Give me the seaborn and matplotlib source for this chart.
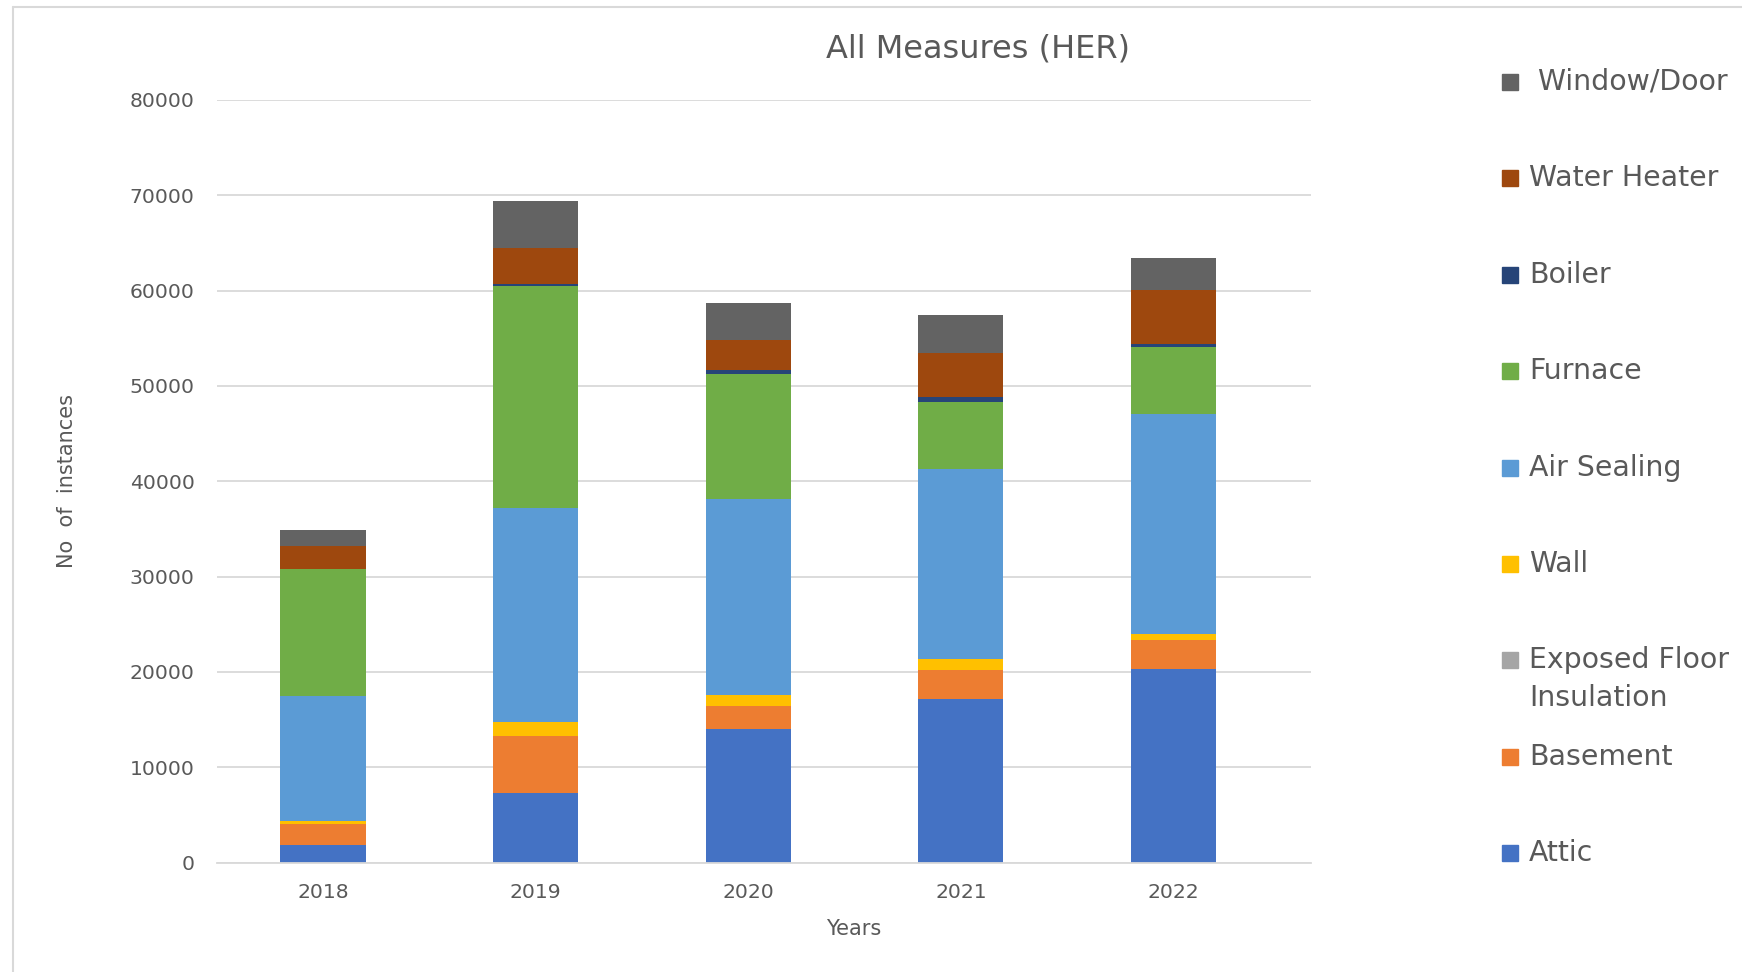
import pandas as pd
import matplotlib
matplotlib.use('Agg')
import matplotlib.pyplot as plt
from matplotlib.lines import Line2D
from matplotlib.patches import Rectangle
import seaborn as sns

# values (instances per year)
years = ['2018', '2019', '2020', '2021', '2022']
attic = [1900, 7300, 14070, 17160, 20300]
basement = [2200, 6000, 2320, 3050, 3070]
exposed_floor = [0, 0, 0, 0, 0]
wall = [250, 1400, 1150, 1160, 660]
air_sealing = [13100, 22500, 20560, 19910, 23020]
furnace = [13330, 23250, 13140, 7040, 7030]
boiler = [0, 200, 380, 520, 360]
water_heater = [2460, 3800, 3240, 4610, 5640]
window_door = [1640, 5000, 3850, 4000, 3330]

measures = ['Attic', 'Basement', 'Exposed Floor\nInsulation', 'Wall', 'Air Sealing',
            'Furnace', 'Boiler', 'Water Heater', ' Window/Door']
colors = ['#4472C4', '#ED7D31', '#A5A5A5', '#FFC000', '#5B9BD5',
          '#70AD47', '#264478', '#9E480E', '#636363']

df = pd.DataFrame(
    [attic, basement, exposed_floor, wall, air_sealing, furnace, boiler, water_heater, window_door],
    index=measures, columns=years).T
cum = df.cumsum(axis=1)

sns.set_style('white')
plt.rcParams['font.family'] = ['DejaVu Sans']
txt = '#595959'

fig = plt.figure(figsize=(17.42, 9.72), dpi=100)
ax = fig.add_axes([0.1244, 0.1125, 0.628, 0.7847])

# stacked bars: draw cumulative totals from the top layer down
for m, c in reversed(list(zip(measures, colors))):
    sns.barplot(x=years, y=cum[m].values, order=years, color=c, width=0.4,
                saturation=1, linewidth=0, ax=ax)

ax.set_ylim(0, 80000)
ax.set_xlim(-0.5, 4.645)
ax.set_yticks(range(0, 80001, 10000))
ax.yaxis.grid(True, color='#d9d9d9', linewidth=1.3)
ax.set_axisbelow(True)
for s in ['top', 'right', 'left']:
    ax.spines[s].set_visible(False)
ax.spines['bottom'].set_color('#d9d9d9')
ax.spines['bottom'].set_linewidth(1.3)
ax.tick_params(axis='y', length=0, pad=16, labelsize=14.7, labelcolor=txt)
ax.tick_params(axis='x', length=0, pad=15, labelsize=14.7, labelcolor=txt)
ax.set_xlabel('')
ax.set_ylabel('')

W, H = 1742, 972
fig.text(978 / W, 1 - 49 / H, 'All Measures (HER)', ha='center', va='center',
         fontsize=23, color=txt)
fig.text(854 / W, 1 - 929 / H, 'Years', ha='center', va='center', fontsize=15, color=txt)
fig.text(67 / W, 1 - 481 / H, 'No  of  instances', ha='center', va='center',
         rotation=90, fontsize=15, color=txt)

# legend, top entry first
y0, step = 82, 96.4
for i, (m, c) in enumerate(zip(reversed(measures), reversed(colors))):
    yc = y0 + i * step
    fig.patches.append(Rectangle((1502 / W, 1 - (yc + 8) / H), 16 / W, 16 / H,
                                 transform=fig.transFigure, color=c))
    for j, line in enumerate(m.split('\n')):
        fig.text(1529 / W, 1 - (yc + j * 38) / H, line, ha='left', va='center',
                 fontsize=20.4, color=txt)

# chart area border
fig.lines.append(Line2D([13 / W, 13 / W], [0, 1 - 7 / H], transform=fig.transFigure,
                        color='#d9d9d9', linewidth=1.5))
fig.lines.append(Line2D([13 / W, 1], [1 - 7 / H, 1 - 7 / H], transform=fig.transFigure,
                        color='#d9d9d9', linewidth=1.5))

fig.savefig('out.png', dpi=100)
